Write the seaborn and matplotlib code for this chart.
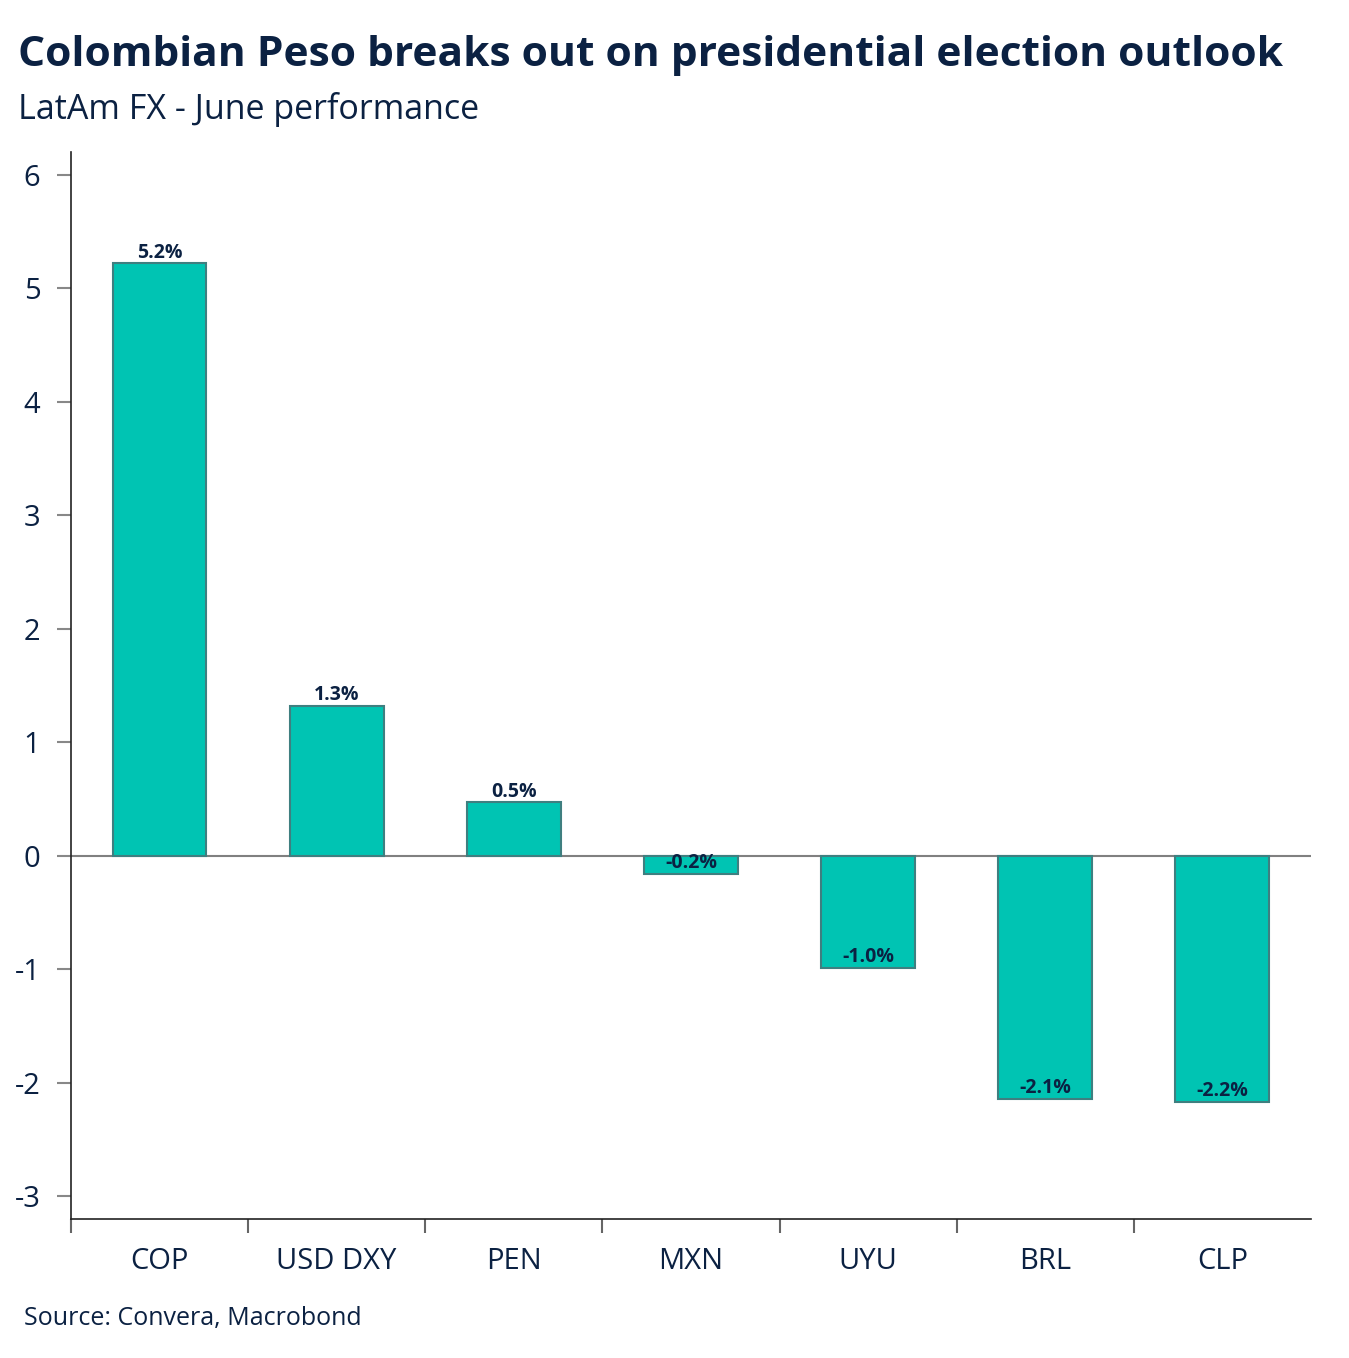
import pandas as pd
import matplotlib
matplotlib.use('Agg')
import matplotlib.pyplot as plt
import seaborn as sns

currencies = ['COP', 'USD DXY', 'PEN', 'MXN', 'UYU', 'BRL', 'CLP']
june_change = [5.22, 1.32, 0.47, -0.16, -0.99, -2.14, -2.17]
value_labels = ['5.2%', '1.3%', '0.5%', '-0.2%', '-1.0%', '-2.1%', '-2.2%']
y_ticks = [-3, -2, -1, 0, 1, 2, 3, 4, 5, 6]

navy = '#0b2142'
teal = '#00c4b3'

df = pd.DataFrame({'currency': currencies, 'change': june_change})

sns.set_style('white')
plt.rcParams['font.family'] = ['Open Sans', 'DejaVu Sans']

fig = plt.figure(figsize=(13.49, 13.58), dpi=100)
ax = fig.add_axes([0.0526, 0.1024, 0.9192, 0.7856])

sns.barplot(data=df, x='currency', y='change', color=teal, saturation=1,
            width=0.53, edgecolor='#3f7f80', linewidth=1.5, ax=ax)

for i, (v, lab) in enumerate(zip(june_change, value_labels)):
    ax.annotate(lab, (i, v), xytext=(0, 0.5), textcoords='offset points',
                ha='center', va='bottom', fontsize=14, fontweight='bold', color=navy)

ax.axhline(0, color='#808080', lw=1.5, zorder=0.5)
ax.set_xlim(-0.5, 6.5)
ax.set_ylim(-3.2, 6.2)
ax.set_yticks(y_ticks)
ax.set_yticklabels([str(t) for t in y_ticks])
ax.set_xlabel('')
ax.set_ylabel('')

for s in ['top', 'right']:
    ax.spines[s].set_visible(False)
for s in ['left', 'bottom']:
    ax.spines[s].set_color('#222222')
    ax.spines[s].set_linewidth(1.2)

# x ticks sit between categories (none at the right end)
ax.set_xticks([i + 0.5 for i in range(-1, 6)], minor=True)
ax.tick_params(axis='x', which='major', length=0, labelsize=21, labelcolor=navy, pad=20)
ax.tick_params(axis='x', which='minor', bottom=True, length=10, width=1.5,
               color='#666666', direction='out')
ax.tick_params(axis='y', length=10, width=1.5, color='#888888', labelsize=21,
               labelcolor=navy, pad=12, left=True)

fig.text(0.013, 0.959, 'Colombian Peso breaks out on presidential election outlook',
         fontsize=30.6, fontweight='bold', color=navy, va='center')
fig.text(0.013, 0.919, 'LatAm FX - June performance', fontsize=24.5, color=navy, va='center')
fig.text(0.018, 0.029, 'Source: Convera, Macrobond', fontsize=18, color=navy, va='center')

plt.savefig('out.png', dpi=100)
